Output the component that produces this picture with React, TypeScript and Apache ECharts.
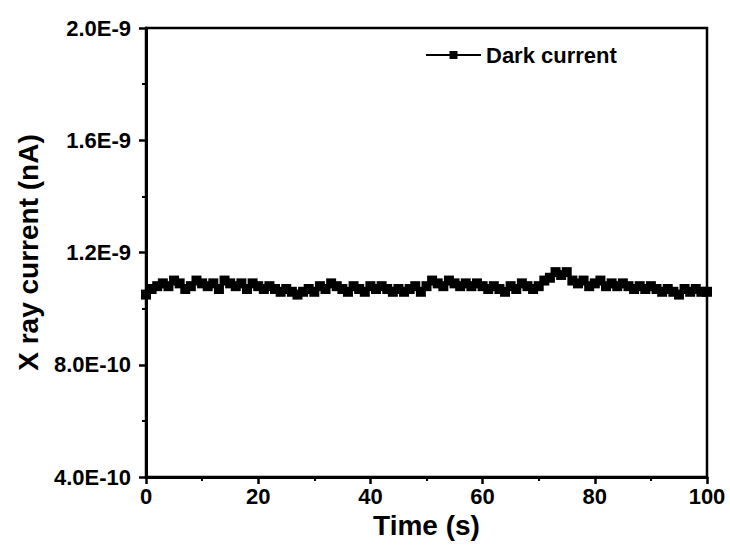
import React, { useEffect, useRef } from "react";
import * as echarts from "echarts";

const times: number[] = Array.from({ length: 101 }, (_, i) => i);
const darkCurrent: number[] = [
  1.05e-9, 1.07e-9, 1.08e-9, 1.09e-9, 1.08e-9, 1.1e-9, 1.09e-9, 1.07e-9, 1.08e-9, 1.1e-9,
  1.09e-9, 1.08e-9, 1.09e-9, 1.07e-9, 1.1e-9, 1.09e-9, 1.08e-9, 1.09e-9, 1.07e-9, 1.09e-9,
  1.08e-9, 1.07e-9, 1.08e-9, 1.07e-9, 1.06e-9, 1.07e-9, 1.06e-9, 1.05e-9, 1.06e-9, 1.07e-9,
  1.06e-9, 1.08e-9, 1.07e-9, 1.09e-9, 1.08e-9, 1.07e-9, 1.06e-9, 1.08e-9, 1.07e-9, 1.06e-9,
  1.08e-9, 1.07e-9, 1.08e-9, 1.07e-9, 1.06e-9, 1.07e-9, 1.06e-9, 1.07e-9, 1.08e-9, 1.06e-9,
  1.08e-9, 1.1e-9, 1.09e-9, 1.08e-9, 1.1e-9, 1.09e-9, 1.08e-9, 1.09e-9, 1.08e-9, 1.09e-9,
  1.08e-9, 1.07e-9, 1.08e-9, 1.07e-9, 1.06e-9, 1.08e-9, 1.07e-9, 1.09e-9, 1.08e-9, 1.07e-9,
  1.08e-9, 1.1e-9, 1.11e-9, 1.13e-9, 1.12e-9, 1.13e-9, 1.1e-9, 1.09e-9, 1.1e-9, 1.08e-9,
  1.09e-9, 1.1e-9, 1.08e-9, 1.09e-9, 1.08e-9, 1.09e-9, 1.08e-9, 1.07e-9, 1.08e-9, 1.07e-9,
  1.08e-9, 1.07e-9, 1.06e-9, 1.07e-9, 1.06e-9, 1.05e-9, 1.07e-9, 1.06e-9, 1.07e-9, 1.06e-9,
  1.06e-9,
];
const seriesName = "Dark current";
const xTitle = "Time (s)";
const yTitle = "X ray current (nA)";

export default function App() {
  const ref = useRef<HTMLDivElement>(null);
  useEffect(() => {
    if (!ref.current) return;
    const chart = echarts.init(ref.current, null, { renderer: "svg" });
    const font = "Liberation Sans, Arial, sans-serif";
    chart.setOption({
      animation: false,
      backgroundColor: "#ffffff",
      grid: {
        left: 146,
        right: 23,
        top: 28,
        bottom: 68,
        show: true,
        borderColor: "#000",
        borderWidth: 2.5,
      },
      legend: {
        data: [seriesName],
        left: 420,
        top: 39,
        itemWidth: 55,
        itemHeight: 10,
        itemGap: 8,
        textStyle: { fontFamily: font, fontWeight: "bold", fontSize: 22, color: "#000" },
      },
      xAxis: {
        type: "value",
        min: 0,
        max: 100,
        interval: 20,
        name: xTitle,
        nameLocation: "middle",
        nameGap: 27,
        nameTextStyle: { fontFamily: font, fontWeight: "bold", fontSize: 28, color: "#000" },
        axisLine: { lineStyle: { color: "#000", width: 3 } },
        axisTick: { length: 7, lineStyle: { color: "#000", width: 2.5 } },
        minorTick: { show: true, splitNumber: 2, length: 4, lineStyle: { color: "#000", width: 2 } },
        axisLabel: { fontFamily: font, fontWeight: "bold", fontSize: 22, color: "#000", margin: 8 },
        splitLine: { show: false },
      },
      yAxis: {
        type: "value",
        min: 4e-10,
        max: 2e-9,
        interval: 4e-10,
        name: yTitle,
        nameLocation: "middle",
        nameGap: 104,
        nameTextStyle: { fontFamily: font, fontWeight: "bold", fontSize: 28, color: "#000" },
        axisLine: { lineStyle: { color: "#000", width: 3 } },
        axisTick: { length: 7, lineStyle: { color: "#000", width: 2.5 } },
        minorTick: { show: true, splitNumber: 2, length: 4, lineStyle: { color: "#000", width: 2 } },
        axisLabel: {
          fontFamily: font,
          fontWeight: "bold",
          fontSize: 22,
          color: "#000",
          margin: 15,
          formatter: (v: number) => v.toExponential(1).replace("e", "E"),
        },
        splitLine: { show: false },
      },
      series: [
        {
          name: seriesName,
          type: "line",
          data: times.map((t, i) => [t, darkCurrent[i]]),
          symbol: "rect",
          symbolSize: 10,
          color: "#000",
          lineStyle: { color: "#000", width: 3.5 },
          itemStyle: { color: "#000" },
        },
      ],
    });
    return () => chart.dispose();
  }, []);
  return <div ref={ref} style={{ width: 730, height: 545, position: "absolute", left: 0, top: 0 }} />;
}
